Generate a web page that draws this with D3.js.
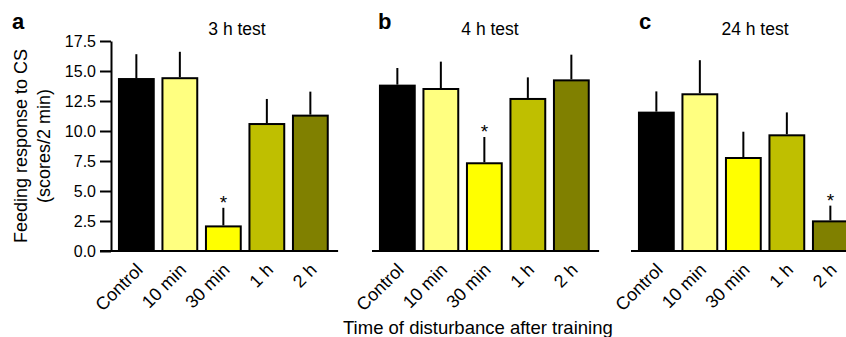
<!DOCTYPE html>
<html><head><meta charset="utf-8">
<script src="https://cdn.jsdelivr.net/npm/d3@7"></script>
<style>
html,body{margin:0;padding:0;background:#fff;overflow:hidden}
text{font-family:"Liberation Sans",Arial,sans-serif;fill:#000}
</style></head>
<body>
<svg id="chart" width="846" height="337"></svg>
<script>
const categories = ["Control","10 min","30 min","1 h","2 h"];
const panelLetters = ["a","b","c"];
const panelTitles = ["3 h test","4 h test","24 h test"];
const means3h  = [14.33, 14.4, 2.05, 10.58, 11.28];
const errors3h = [16.4, 16.6, 3.6, 12.67, 13.28];
const means4h  = [13.78, 13.5, 7.31, 12.67, 14.22];
const errors4h = [15.25, 15.78, 9.5, 14.47, 16.36];
const means24h  = [11.53, 13.06, 7.75, 9.64, 2.47];
const errors24h = [13.3, 15.9, 9.94, 11.55, 3.78];
const sig3h = [false,false,true,false,false];
const sig4h = [false,false,true,false,false];
const sig24h = [false,false,false,false,true];
const yTicks = [0,2.5,5,7.5,10,12.5,15,17.5];
const barColors = ["#000000","#ffff80","#ffff00","#bfbf00","#808000"];
const yLabel1 = "Feeding response to CS";
const yLabel2 = "(scores/2 min)";
const xTitle = "Time of disturbance after training";

const panels = [
  {letter:panelLetters[0], title:panelTitles[0], means:means3h, errs:errors3h, sig:sig3h},
  {letter:panelLetters[1], title:panelTitles[1], means:means4h, errs:errors4h, sig:sig4h},
  {letter:panelLetters[2], title:panelTitles[2], means:means24h, errs:errors24h, sig:sig24h}
];
// layout
const panelX0 = [114.6, 375.6, 634.6];
const baseStart = [100, 372, 631];
const titleCx = [237, 490, 755];
const letterX = [12, 378, 639];
const bandW = 217.5;

const svg = d3.select("#chart");
const y = d3.scaleLinear().domain([0,17.5]).range([251,41]);

panels.forEach((p,pi)=>{
  const g = svg.append("g");
  const x = d3.scaleBand().domain(categories)
    .range([panelX0[pi], panelX0[pi]+bandW]).paddingInner(0.2).paddingOuter(0.1);

  // bars
  g.selectAll("rect.bar").data(categories).enter().append("rect")
    .attr("x", d=>x(d)).attr("width", x.bandwidth())
    .attr("y", (d,i)=>y(p.means[i])).attr("height",(d,i)=>y(0)-y(p.means[i]))
    .attr("fill",(d,i)=>barColors[i]).attr("stroke","#000").attr("stroke-width",2);
  // error bars
  g.selectAll("line.err").data(categories).enter().append("line")
    .attr("x1",d=>x(d)+x.bandwidth()/2).attr("x2",d=>x(d)+x.bandwidth()/2)
    .attr("y1",(d,i)=>y(p.means[i])-1).attr("y2",(d,i)=>y(p.errs[i]))
    .attr("stroke","#000").attr("stroke-width",2);
  // stars
  g.selectAll("text.star").data(categories.filter((d,i)=>p.sig[i])).enter().append("text")
    .attr("x",d=>x(d)+x.bandwidth()/2)
    .attr("y",d=>y(p.errs[categories.indexOf(d)])+1)
    .attr("text-anchor","middle").style("font-size","19px").text("*");

  // baseline
  g.append("line").attr("x1",baseStart[pi]).attr("x2",panelX0[pi]+bandW+6)
    .attr("y1",y(0)).attr("y2",y(0)).attr("stroke","#000").attr("stroke-width",2);

  // x tick labels
  const xAxis = d3.axisBottom(x).tickSize(0).tickPadding(0);
  const xa = g.append("g").attr("transform",`translate(0,${y(0)})`).call(xAxis);
  xa.select(".domain").remove();
  xa.selectAll("text").attr("font-family",null).attr("font-size",null)
    .style("font-size","18px").attr("text-anchor","end")
    .attr("dy",null).attr("y",0)
    .attr("transform","translate(7.5,20) rotate(-45)");

  // titles
  g.append("text").attr("x",titleCx[pi]).attr("y",35).attr("text-anchor","middle")
    .style("font-size","17.5px").text(p.title);
  g.append("text").attr("x",letterX[pi]).attr("y",29)
    .style("font-size","22px").style("font-weight","bold").text(p.letter);

  if(pi===0){
    const ya = g.append("g").attr("transform","translate(111,0)")
      .call(d3.axisLeft(y).tickValues(yTicks).tickFormat(d3.format(".1f"))
        .tickSize(11).tickPadding(4).tickSizeOuter(0));
    ya.select(".domain").attr("stroke-width",2);
    ya.selectAll(".tick line").attr("stroke-width",2);
    ya.selectAll("text").attr("font-family",null).attr("font-size",null)
      .style("font-size","16px");
  }
});

// y label
const yl = svg.append("text").attr("transform","translate(27,146) rotate(-90)")
  .attr("text-anchor","middle").style("font-size","18px");
yl.append("tspan").attr("x",0).attr("y",0).text(yLabel1);
yl.append("tspan").attr("x",0).attr("y",23).text(yLabel2);

svg.append("text").attr("x",343).attr("y",334).style("font-size","18.5px").text(xTitle);
</script>
</body></html>
